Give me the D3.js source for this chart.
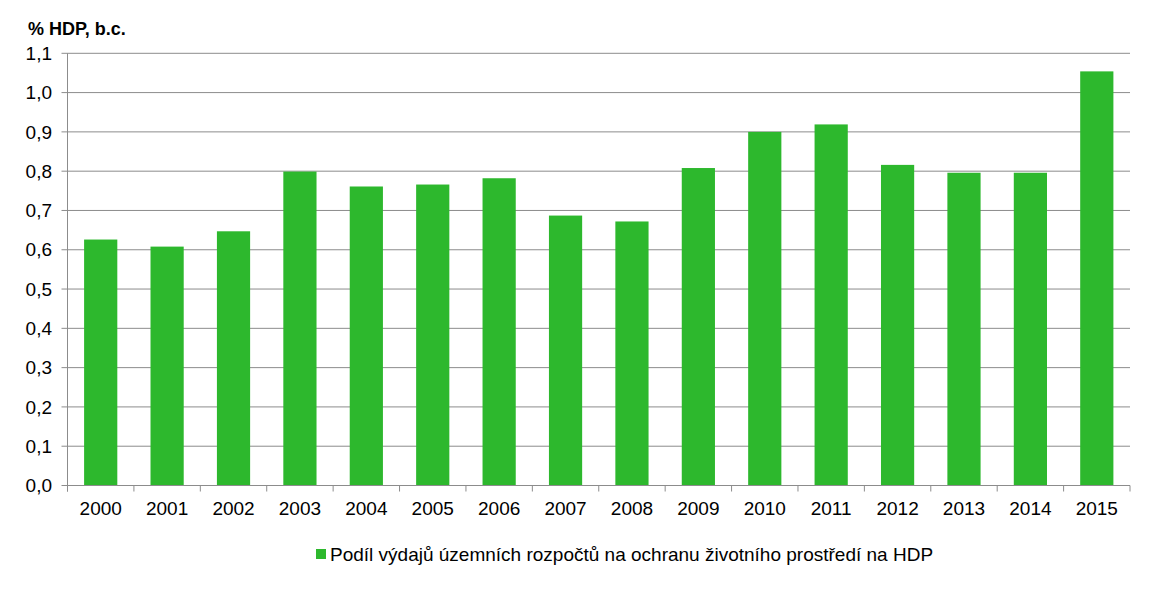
<!DOCTYPE html>
<html><head><meta charset="utf-8">
<script src="https://cdn.jsdelivr.net/npm/d3@7"></script>
<style>body{margin:0;background:#fff}svg{display:block;font-family:"Liberation Sans",Arial,sans-serif}</style>
</head><body><svg id="c" width="1151" height="591"></svg>
<script>
const years = ["2000","2001","2002","2003","2004","2005","2006","2007","2008","2009","2010","2011","2012","2013","2014","2015"];
const values = [0.626,0.608,0.647,0.799,0.761,0.766,0.782,0.687,0.672,0.808,0.900,0.919,0.816,0.796,0.796,1.054];
const yTicks = [0,0.1,0.2,0.3,0.4,0.5,0.6,0.7,0.8,0.9,1.0,1.1];
const seriesName = "Podíl výdajů územních rozpočtů na ochranu životního prostředí na HDP";
const unitLabel = "% HDP, b.c.";

const svg = d3.select("#c");
const L = 67.5, R = 1130, T = 53.3, B = 485.5;
const x = d3.scaleBand().domain(years).range([L, R]).paddingInner(0.5).paddingOuter(0.25);
const y = d3.scaleLinear().domain([0, 1.1]).range([B, T]);
const grid = "#8c8c8c";
const fmt = d => d.toFixed(1).replace(".", ",");

// gridlines
svg.append("g").selectAll("line").data(yTicks).join("line")
  .attr("x1", L - 6).attr("x2", R).attr("y1", d => y(d)).attr("y2", d => y(d))
  .attr("stroke", grid).attr("stroke-width", 1);
// y axis line
svg.append("line").attr("x1", L).attr("x2", L).attr("y1", T).attr("y2", B + 6).attr("stroke", grid);
// y labels
svg.append("g").selectAll("text").data(yTicks).join("text")
  .attr("x", 52).attr("y", d => y(d)).attr("dy", "0.35em").attr("text-anchor", "end")
  .attr("font-size", 19).attr("fill", "#000").text(fmt);

// bars
svg.append("g").selectAll("rect").data(values).join("rect")
  .attr("x", (d, i) => x(years[i])).attr("width", x.bandwidth())
  .attr("y", d => y(d)).attr("height", d => B - y(d)).attr("fill", "#2db82d");

// x axis
const boundaries = d3.range(years.length + 1).map(i => L + i * (R - L) / years.length);
svg.append("g").selectAll("line").data(boundaries).join("line")
  .attr("x1", d => d).attr("x2", d => d).attr("y1", B).attr("y2", B + 6).attr("stroke", grid);
svg.append("line").attr("x1", L).attr("x2", R).attr("y1", B).attr("y2", B).attr("stroke", grid);
svg.append("g").selectAll("text").data(years).join("text")
  .attr("x", d => x(d) + x.bandwidth() / 2).attr("y", 515).attr("text-anchor", "middle")
  .attr("font-size", 19).attr("fill", "#000").text(d => d);

// title
svg.append("text").attr("x", 28).attr("y", 35).attr("font-size", 18).attr("font-weight", "bold").text(unitLabel);

// legend
const lg = svg.append("g");
lg.append("rect").attr("x", 316).attr("y", 549).attr("width", 10).attr("height", 10).attr("fill", "#2db82d");
lg.append("text").attr("x", 330).attr("y", 561).attr("font-size", 19).text(seriesName);
</script></body></html>
